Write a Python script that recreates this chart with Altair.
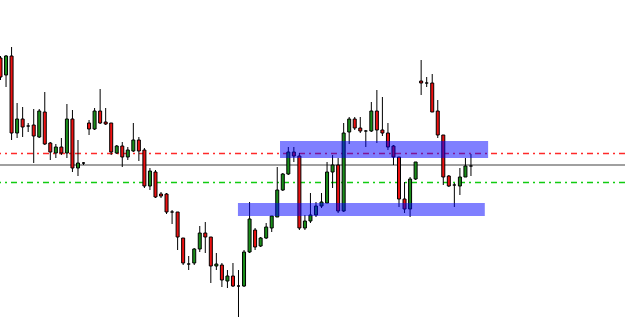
import altair as alt
import pandas as pd

# Candle values (price points, arbitrary units)
opens = [272, 255, 274, 197, 211, 204, 205, 193, 218, 187,
         177, 183, 177, 211, 162, 167, 207, 201, 219, 208,
         207, 177, 184, 173, 179, 190, 180, 144, 158, 136,
         136, 118, 118, 92, 66, 67, 81, 97, 93, 64,
         65, 49, 54, 44, 44, 78, 100, 84, 92, 102,
         113, 140, 156, 178, 174, 102, 109, 115, 124, 127,
         158, 165, 119, 198, 211, 202, 199, 199, 219, 200,
         197, 184, 173, 131, 121, 151, 249, 247, 247, 219,
         195, 154, 145, 144, 153, 164]
highs = [274, 275, 283, 227, 223, 207, 221, 221, 238, 188,
         186, 192, 226, 220, 190, 168, 210, 222, 241, 222,
         207, 185, 188, 183, 207, 193, 182, 162, 160, 138,
         137, 120, 118, 92, 74, 82, 104, 108, 93, 77,
         67, 60, 67, 60, 80, 128, 102, 93, 107, 114,
         163, 157, 183, 183, 177, 115, 137, 128, 137, 168,
         175, 172, 207, 213, 213, 213, 200, 228, 240, 233,
         207, 185, 173, 148, 153, 168, 270, 253, 256, 230,
         195, 155, 147, 162, 172, 176]
lows = [250, 243, 190, 192, 193, 198, 167, 192, 185, 170,
        172, 175, 172, 158, 154, 165, 195, 200, 206, 205,
        175, 176, 163, 170, 178, 169, 142, 140, 132, 132,
        116, 106, 80, 65, 60, 65, 78, 77, 47, 60,
        43, 42, 43, 13, 43, 77, 80, 83, 91, 98,
        113, 139, 155, 168, 100, 100, 107, 113, 122, 127,
        142, 117, 118, 186, 200, 197, 183, 198, 187, 194,
        180, 165, 123, 117, 113, 150, 235, 243, 218, 192,
        145, 143, 123, 135, 153, 154]
closes = [253, 274, 197, 211, 203, 204, 194, 219, 186, 178,
          183, 177, 211, 162, 167, 167, 201, 219, 207, 206,
          178, 184, 173, 180, 190, 179, 144, 159, 133, 134,
          118, 118, 93, 67, 66, 81, 97, 93, 64, 66,
          50, 54, 44, 44, 78, 111, 83, 92, 103, 114,
          140, 156, 178, 174, 102, 109, 115, 124, 128, 158,
          165, 119, 197, 211, 202, 199, 199, 219, 200, 197,
          183, 173, 131, 121, 151, 168, 247, 247, 218, 195,
          153, 144, 145, 153, 164, 164]

# Horizontal levels
resistance_level = [176.5]
pivot_level = [165]
support_level = [147.5]

# Highlighted zones (x in candle index units, y in price)
zone_start = [50.5, 42.9]
zone_end = [88.1, 87.5]
zone_low = [172, 114]
zone_high = [189, 127]

candles = pd.DataFrame({
    "i": list(range(len(opens))),
    "open": opens, "high": highs, "low": lows, "close": closes,
})
candles["dir"] = ["up" if c >= o else "down" for o, c in zip(opens, closes)]

zones = pd.DataFrame({"x1": zone_start, "x2": zone_end,
                      "y1": zone_low, "y2": zone_high})

xs = alt.Scale(domain=[-0.09, 112.83], nice=False, zero=False, padding=0)
ys = alt.Scale(domain=[0, 330], nice=False, zero=False, padding=0)

def hline(vals, color, dash, width):
    kw = dict(color=color, strokeWidth=width)
    if dash:
        kw["strokeDash"] = dash
    return alt.Chart(pd.DataFrame({"v": vals})).mark_rule(**kw).encode(
        y=alt.Y("v:Q", scale=ys, axis=None))

gray = hline(pivot_level, "#a0a0a0", None, 2)
red = hline(resistance_level, "#ff2a2a", [6, 4, 2, 4], 1.3)
green = hline(support_level, "#11cc11", [6, 4, 2, 4], 1.3)

base = alt.Chart(candles)
wicks = base.mark_rule(color="black", strokeWidth=1).encode(
    x=alt.X("i:Q", scale=xs, axis=None),
    y=alt.Y("low:Q", scale=ys, axis=None),
    y2="high:Q",
)
bodies = base.mark_bar(size=3, stroke="black", strokeWidth=1).encode(
    x=alt.X("i:Q", scale=xs, axis=None),
    y=alt.Y("open:Q", scale=ys, axis=None),
    y2="close:Q",
    color=alt.Color("dir:N", scale=alt.Scale(domain=["up", "down"],
                                             range=["#1a8f1a", "#ee1111"]),
                    legend=None),
)

rects = alt.Chart(zones).mark_rect(color="#0000ff", opacity=0.5).encode(
    x=alt.X("x1:Q", scale=xs, axis=None), x2="x2:Q",
    y=alt.Y("y1:Q", scale=ys, axis=None), y2="y2:Q",
)

chart = alt.layer(gray, red, green, wicks, bodies, rects).properties(
    width=625, height=330, padding=0, autosize="none",
    background="white",
).configure_view(stroke=None)

chart.save("out.html", embed_options={"renderer": "svg", "actions": False})
